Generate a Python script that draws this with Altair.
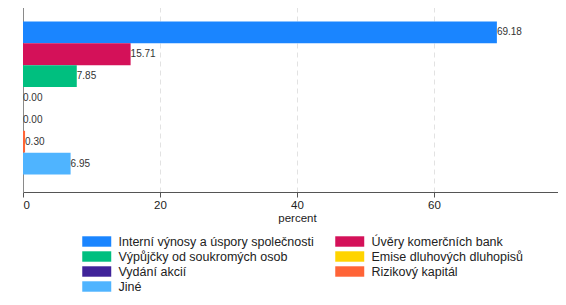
import altair as alt
import pandas as pd

categories = [
    "Interní výnosy a úspory společnosti",
    "Úvěry komerčních bank",
    "Výpůjčky od soukromých osob",
    "Emise dluhových dluhopisů",
    "Vydání akcií",
    "Rizikový kapitál",
    "Jiné",
]
values = [69.18, 15.71, 7.85, 0.00, 0.00, 0.30, 6.95]
colors = ["#1a85ff", "#d41159", "#00bf7f", "#ffd400", "#402399", "#ff6437", "#4fb4ff"]
x_ticks = [0, 20, 40, 60, 80]

# legend is filled column by column: left column first, then right column
legend_order = [0, 2, 4, 6, 1, 3, 5]
legend_domain = [categories[i] for i in legend_order]
legend_range = [colors[i] for i in legend_order]

df = pd.DataFrame({"category": categories, "percent": values})

y_enc = alt.Y(
    "category:N",
    sort=categories,
    scale=alt.Scale(paddingInner=0, paddingOuter=0.8),
    axis=alt.Axis(labels=False, ticks=False, title=None, domain=True,
                  domainColor="#8a8a8a", grid=False),
)

bars = alt.Chart(df).mark_bar().encode(
    y=y_enc,
    x=alt.X(
        "percent:Q",
        scale=alt.Scale(domain=[0, 80], nice=False),
        axis=alt.Axis(
            values=x_ticks, title="percent", grid=True, gridDash=[5, 4],
            gridColor="#e2e2e2", labelFontSize=11.5, titleFontSize=11.5,
            titleFontWeight="normal", titleColor="#222", labelColor="#222",
            tickColor="#555", domainColor="#555", tickSize=5, labelPadding=2,
            titlePadding=2,
        ),
    ),
    color=alt.Color(
        "category:N",
        scale=alt.Scale(domain=legend_domain, range=legend_range),
        legend=alt.Legend(
            title=None, orient="none", legendX=59, legendY=230, columns=2,
            symbolType="M-1,-0.72H3V0.72H-1Z", symbolSize=210,
            symbolStrokeWidth=0, symbolOpacity=1, labelOffset=21.5,
            labelFontSize=12.5, labelColor="#222", columnPadding=21,
            rowPadding=1, labelLimit=400, padding=0,
        ),
    ),
)

labels = alt.Chart(df).mark_text(
    align="left", baseline="middle", dx=0, fontSize=10, color="#333"
).encode(
    y=alt.Y("category:N", sort=categories),
    x=alt.X("percent:Q"),
    text=alt.Text("percent:Q", format=".2f"),
)

chart = (
    alt.layer(bars, labels)
    .properties(width=548, height=188,
                autosize=alt.AutoSizeParams(type="none"),
                padding={"left": 15, "top": -4, "right": -13, "bottom": 101})
    .configure(font="Liberation Sans")
    .configure_view(stroke=None)
)

chart.save("out.html", embed_options={"renderer": "svg", "actions": False})
